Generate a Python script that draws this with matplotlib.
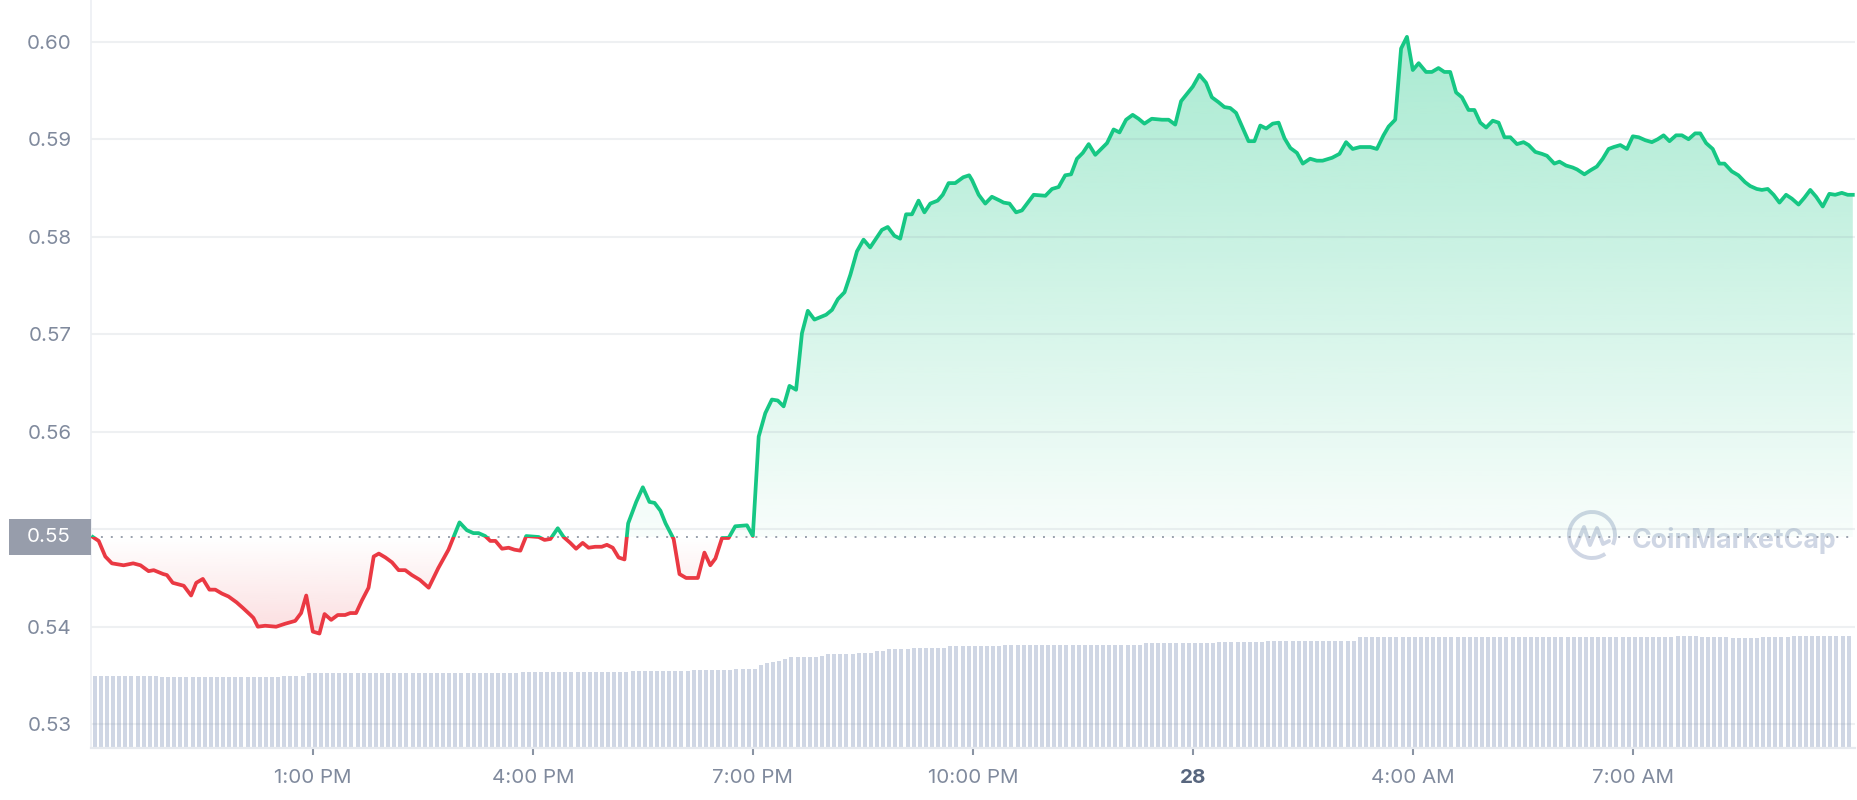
import numpy as np
import matplotlib
matplotlib.use("Agg")
import matplotlib.pyplot as plt
from matplotlib.patches import Rectangle, Arc
from matplotlib.colors import to_rgb
from matplotlib.transforms import blended_transform_factory

plt.rcParams['font.family'] = ['Inter', 'DejaVu Sans']

# price, hours since 10:00 AM
hours = [
    0.00, 0.08, 0.17, 0.26, 0.42, 0.55, 0.65, 0.76, 0.83, 0.96,
    1.01, 1.09, 1.24, 1.34, 1.41, 1.50, 1.59, 1.67, 1.76, 1.85,
    1.96, 2.05, 2.15, 2.19, 2.25, 2.35, 2.50, 2.62, 2.76, 2.84,
    2.91, 3.00, 3.09, 3.16, 3.25, 3.34, 3.44, 3.51, 3.59, 3.67,
    3.76, 3.83, 3.90, 3.99, 4.08, 4.17, 4.26,
    4.35, 4.46, 4.58, 4.71, 4.85, 5.00, 5.10, 5.19, 5.26, 5.35,
    5.42, 5.49, 5.58, 5.67, 5.75, 5.83, 5.91, 6.08, 6.16, 6.24,
    6.34, 6.42, 6.51, 6.59, 6.68, 6.76, 6.85, 6.94, 7.01, 7.09,
    7.17, 7.25, 7.30, 7.41, 7.50, 7.59, 7.66, 7.74, 7.81, 7.92,
    8.00, 8.09, 8.25, 8.34, 8.42, 8.49,
    8.58, 8.67, 8.76, 8.92, 9.00, 9.08, 9.17, 9.26, 9.34, 9.42,
    9.50, 9.59, 9.67, 9.75, 9.84, 10.00, 10.08, 10.16, 10.25, 10.33,
    10.42, 10.51, 10.60, 10.76, 10.84, 10.93, 11.01, 11.09, 11.17, 11.26,
    11.34, 11.42, 11.52, 11.59, 11.67, 11.76, 11.87, 11.95, 11.99, 12.08,
    12.17, 12.26, 12.37,
    12.42, 12.50, 12.59, 12.67, 12.83, 12.99, 13.08, 13.17, 13.26, 13.34,
    13.42, 13.50, 13.58, 13.67, 13.83, 13.92, 14.00, 14.09, 14.18, 14.26,
    14.34, 14.44, 14.58, 14.67, 14.76, 14.84, 15.00, 15.09, 15.18, 15.26,
    15.35, 15.43, 15.51, 15.59, 15.76, 15.84, 15.92, 16.00, 16.09, 16.17,
    16.25, 16.33,
    16.42, 16.50, 16.60, 16.69, 16.77, 16.90, 17.00, 17.09, 17.18, 17.28,
    17.42, 17.51, 17.60, 17.67, 17.76, 17.84, 17.92, 18.00, 18.08, 18.18,
    18.26, 18.35, 18.43, 18.51, 18.59, 18.67, 18.76, 18.84, 18.92, 19.00,
    19.09, 19.17, 19.25, 19.33, 19.42, 19.51, 19.58, 19.67, 19.76, 19.83,
    19.93, 20.00, 20.09, 20.18,
    20.24, 20.34, 20.42, 20.51, 20.59, 20.67, 20.74, 20.83, 20.92, 21.00,
    21.08, 21.17, 21.26, 21.34, 21.42, 21.50, 21.59, 21.67, 21.76, 21.85,
    21.92, 22.00, 22.09, 22.18, 22.25, 22.35, 22.44, 22.53, 22.60, 22.69,
    22.76, 22.84, 22.92, 23.00, 23.09, 23.17, 23.26, 23.34, 23.42, 23.50,
    23.59, 23.68, 23.76, 23.85, 23.93, 24.00,
]
prices = [
    0.5492, 0.5488, 0.5472, 0.5465, 0.5463, 0.5465, 0.5463, 0.5457, 0.5458, 0.5454,
    0.5453, 0.5445, 0.5442, 0.5432, 0.5445, 0.5449, 0.5438, 0.5438, 0.5434, 0.5431,
    0.5425, 0.5419, 0.5412, 0.5409, 0.5400, 0.5401, 0.5400, 0.5403, 0.5406, 0.5414,
    0.5432, 0.5395, 0.5393, 0.5413, 0.5407, 0.5412, 0.5412, 0.5414, 0.5414, 0.5427,
    0.5440, 0.5472, 0.5475, 0.5471, 0.5466, 0.5458, 0.5458,
    0.5453, 0.5448, 0.5440, 0.5460, 0.5479, 0.5507, 0.5499, 0.5496, 0.5496, 0.5493,
    0.5488, 0.5488, 0.5480, 0.5481, 0.5479, 0.5478, 0.5493, 0.5492, 0.5489, 0.5490,
    0.5501, 0.5492, 0.5486, 0.5480, 0.5486, 0.5481, 0.5482, 0.5482, 0.5484, 0.5481,
    0.5471, 0.5469, 0.5506, 0.5528, 0.5543, 0.5528, 0.5527, 0.5519, 0.5506, 0.5490,
    0.5454, 0.5450, 0.5450, 0.5476, 0.5463, 0.5470,
    0.5491, 0.5491, 0.5503, 0.5504, 0.5493, 0.5595, 0.5619, 0.5633, 0.5632, 0.5626,
    0.5647, 0.5643, 0.5701, 0.5724, 0.5715, 0.5720, 0.5725, 0.5736, 0.5743, 0.5761,
    0.5785, 0.5797, 0.5789, 0.5807, 0.5810, 0.5801, 0.5798, 0.5823, 0.5823, 0.5837,
    0.5825, 0.5834, 0.5837, 0.5843, 0.5855, 0.5855, 0.5861, 0.5863, 0.5858, 0.5843,
    0.5834, 0.5841, 0.5837,
    0.5835, 0.5834, 0.5825, 0.5827, 0.5843, 0.5842, 0.5849, 0.5851, 0.5863, 0.5864,
    0.5880, 0.5886, 0.5895, 0.5884, 0.5896, 0.5910, 0.5907, 0.5920, 0.5925, 0.5921,
    0.5916, 0.5921, 0.5920, 0.5920, 0.5915, 0.5939, 0.5954, 0.5966, 0.5958, 0.5943,
    0.5938, 0.5933, 0.5932, 0.5927, 0.5898, 0.5898, 0.5914, 0.5911, 0.5916, 0.5917,
    0.5901, 0.5891,
    0.5886, 0.5875, 0.5880, 0.5878, 0.5878, 0.5881, 0.5885, 0.5897, 0.5890, 0.5892,
    0.5892, 0.5890, 0.5904, 0.5913, 0.5920, 0.5993, 0.6005, 0.5971, 0.5978, 0.5969,
    0.5969, 0.5973, 0.5969, 0.5969, 0.5948, 0.5943, 0.5930, 0.5930, 0.5917, 0.5912,
    0.5919, 0.5917, 0.5902, 0.5902, 0.5895, 0.5897, 0.5894, 0.5887, 0.5885, 0.5883,
    0.5875, 0.5877, 0.5873, 0.5871,
    0.5869, 0.5864, 0.5868, 0.5872, 0.5880, 0.5890, 0.5892, 0.5894, 0.5890, 0.5903,
    0.5902, 0.5899, 0.5897, 0.5900, 0.5904, 0.5898, 0.5904, 0.5904, 0.5900, 0.5906,
    0.5906, 0.5896, 0.5890, 0.5875, 0.5875, 0.5867, 0.5863, 0.5856, 0.5852, 0.5849,
    0.5848, 0.5849, 0.5843, 0.5835, 0.5843, 0.5839, 0.5833, 0.5840, 0.5848, 0.5841,
    0.5831, 0.5844, 0.5843, 0.5845, 0.5843, 0.5843,
]

# volume bars (5 min each), read as runs of equal height
vol_levels = [72, 71.3, 72.3, 75, 76.3, 77.3, 78, 79.3, 83, 84.7, 86.3, 87.3, 88.7,
              91.3, 92, 94, 95.3, 97.3, 98.7, 99.7, 102, 103.5, 105, 106, 107,
              111, 112, 111, 110.5, 111, 112]
vol_counts = [11, 20, 4, 35, 18, 10, 7, 4, 1, 1, 1, 1, 1,
              5, 1, 5, 3, 2, 4, 6, 9, 23, 12, 8, 15,
              52, 4, 5, 5, 5, 10]

tick_hours = [3, 6, 9, 12, 15, 18, 21]
tick_labels = ['1:00 PM', '4:00 PM', '7:00 PM', '10:00 PM', '28', '4:00 AM', '7:00 AM']
y_ticks = [0.53, 0.54, 0.55, 0.56, 0.57, 0.58, 0.59, 0.60]

GREEN = '#16c784'
RED = '#ea3943'
GREY = '#808a9d'
LIGHT = '#cfd6e4'

W, H = 1858, 800
fig = plt.figure(figsize=(W / 100, H / 100), dpi=100)
ax = fig.add_axes([91 / W, 52 / H, 1764 / W, 748 / H])
axv = ax.twinx()
ax.set_zorder(axv.get_zorder() + 1)
ax.patch.set_visible(False)

xmin, xmax = -0.025, 24.03
ymin, ymax = 0.52756, 0.60428

# volume
vol = np.repeat(vol_levels, vol_counts)
bar_x = np.arange(len(vol)) / 12
axv.bar(bar_x, vol, width=0.65 / 12, align='edge', color=LIGHT, linewidth=0)
axv.set_ylim(0, 748)
axv.axis('off')

x = np.array(hours)
y = np.array(prices)
base_price = prices[0]

# gradient fills clipped to the area between line and baseline
poly = ax.fill_between(x, y, base_price, color='none', linewidth=0)
clip = poly.get_paths()[0]
n = 256
g = np.zeros((n, 1, 4))
g[..., :3] = to_rgb(GREEN)
g[:, 0, 3] = np.linspace(0.03, 0.37, n)
im = ax.imshow(g, extent=[xmin, xmax, base_price, y.max()], origin='lower',
               aspect='auto', zorder=1, interpolation='bilinear')
im.set_clip_path(clip, transform=ax.transData)
r = np.zeros((n, 1, 4))
r[..., :3] = to_rgb(RED)
r[:, 0, 3] = np.linspace(0.17, 0.0, n)
im2 = ax.imshow(r, extent=[xmin, xmax, y.min(), base_price], origin='lower',
                aspect='auto', zorder=1, interpolation='bilinear')
im2.set_clip_path(clip, transform=ax.transData)

# grid
for yt in y_ticks:
    ax.axhline(yt, color=(0.5, 0.55, 0.62), alpha=0.13, lw=1.5, zorder=2)

ax.axhline(base_price, color='#9aa1ad', lw=1.4, ls=(0, (1, 4.1)), zorder=3)

# two-coloured price line
lg, = ax.plot(x, y, color=GREEN, lw=2.7, zorder=4, solid_joinstyle='round')
lg.set_clip_path(Rectangle((xmin, base_price), xmax - xmin, ymax - base_price,
                           transform=ax.transData))
lr, = ax.plot(x, y, color=RED, lw=2.7, zorder=4, solid_joinstyle='round')
lr.set_clip_path(Rectangle((xmin, ymin), xmax - xmin, base_price - ymin,
                           transform=ax.transData))

ax.set_xlim(xmin, xmax)
ax.set_ylim(ymin, ymax)

for s in ['top', 'right']:
    ax.spines[s].set_visible(False)
ax.spines['left'].set_color('#eceff3')
ax.spines['left'].set_linewidth(1.2)
ax.spines['bottom'].set_color('#e6e9ee')
ax.spines['bottom'].set_linewidth(1.6)

base_lbl = f'{base_price:.2f}'
ax.set_yticks(y_ticks, ['' if f'{v:.2f}' == base_lbl else f'{v:.2f}' for v in y_ticks])
ax.tick_params(axis='y', length=0, pad=14, labelsize=14.8, labelcolor=GREY)
ax.set_xticks(tick_hours, tick_labels)
ax.tick_params(axis='x', length=5, width=1.5, color='#8a93a3', pad=10,
               labelsize=14.8, labelcolor=GREY)
for t in ax.get_xticklabels():
    if t.get_text() == '28':
        t.set_fontweight('bold')
        t.set_color('#58667e')

# current price box on the y axis
trans = blended_transform_factory(ax.transAxes, ax.transData)
px = (ymax - ymin) / 748
bw = 82 / 1764
ax.add_patch(Rectangle((-bw, base_price - 18 * px), bw, 36 * px, transform=trans,
                       facecolor='#979dab', edgecolor='none', clip_on=False, zorder=5))
ax.text(-bw / 2 - 0.0005, base_price, base_lbl, transform=trans, ha='center', va='center',
        color='white', fontsize=14.8, zorder=6, clip_on=False)

# watermark
ov = fig.add_axes([0, 0, 1, 1], zorder=0.5)
ov.set_xlim(0, W)
ov.set_ylim(H, 0)
ov.axis('off')
ov.patch.set_visible(False)
ov.add_patch(Arc((1592, 535), 46, 46, theta1=55, theta2=385, color=LIGHT, lw=2.8))
ov.plot([1576, 1584, 1590, 1597, 1603, 1609], [546, 527, 545, 528, 544, 541],
        color=LIGHT, lw=2.8, solid_capstyle='round', solid_joinstyle='round')
ov.text(1632, 548.5, 'CoinMarketCap', fontsize=19.3, fontweight='bold',
        color=LIGHT, ha='left', va='baseline')

fig.savefig('out.png', dpi=100, facecolor='white')
